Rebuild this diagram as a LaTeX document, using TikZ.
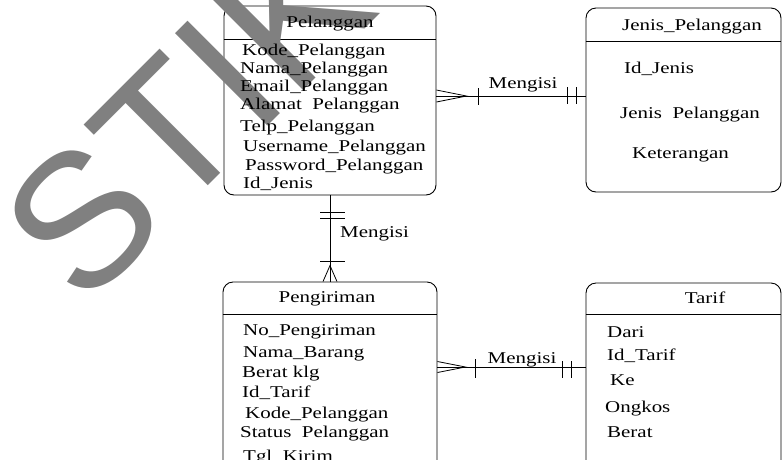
\documentclass[tikz,border=0pt]{standalone}
\usepackage{fontspec}
\setmainfont{Liberation Serif}[FakeStretch=1.27]
\newfontfamily\wmfont{Liberation Sans}
\usetikzlibrary{calc}
\newcommand\erfont{\fontsize{16.5}{16.5}\selectfont}
\definecolor{wmgray}{RGB}{128,128,128}

\begin{document}
\begin{tikzpicture}[x=1pt,y=-1pt,
  entity/.style={draw, rounded corners=10pt, line width=0.9pt, inner sep=0pt},
  attr/.style={anchor=west, inner sep=0pt, font=\erfont, text height=0.7em, text depth=0.2em, yshift=-3pt},
  ttl/.style={anchor=center, inner sep=0pt, font=\erfont, text height=0.7em, text depth=0.2em, yshift=-3pt},
  link/.style={line width=0.8pt},
  rel/.style={inner sep=0pt, font=\erfont, text height=0.7em, text depth=0.2em, yshift=-3pt}]

\useasboundingbox (0,0) rectangle (782,459);
\clip (0,0) rectangle (782,459);

% entity boxes
\node[entity, minimum width=212pt, minimum height=189pt] (pel) at (330,100.5) {};
\node[entity, minimum width=195pt, minimum height=184pt] (jen) at (683.5,100) {};
\node[entity, minimum width=214pt, minimum height=208pt] (pen) at (330,386) {};
\node[entity, minimum width=195pt, minimum height=207pt] (tar) at (683.5,386.5) {};

% header separators
\draw[line width=0.8pt] ($(pel.north west)+(0,34)$) -- ($(pel.north east)+(0,34)$);
\draw[line width=0.8pt] ($(jen.north west)+(0,34)$) -- ($(jen.north east)+(0,34)$);
\draw[line width=0.8pt] ($(pen.north west)+(0,33)$) -- ($(pen.north east)+(0,33)$);
\draw[line width=0.8pt] ($(tar.north west)+(0,32)$) -- ($(tar.north east)+(0,32)$);

% Pelanggan -- Jenis_Pelanggan
\coordinate (r1) at (0,96);
\coordinate (a1) at (pel.east |- r1);
\coordinate (b1) at (jen.west |- r1);
\draw[link] (a1) -- (b1);
\draw[link] ($(a1)+(0,-6)$) -- ($(a1)+(30,0)$) -- ($(a1)+(0,6)$);
\draw[link] ($(a1)+(42,-8)$) -- ($(a1)+(42,9)$);
\draw[link] ($(b1)+(-18,-9)$) -- ($(b1)+(-18,8)$);
\draw[link] ($(b1)+(-9,-9)$) -- ($(b1)+(-9,8)$);
\node[rel] (m1) at (523,83) {Mengisi};

% Pelanggan -- Pengiriman
\coordinate (a2) at (pel.south);
\coordinate (b2) at (pen.north);
\draw[link] (a2) -- (b2);
\draw[link] ($(a2)+(-10,17)$) -- ($(a2)+(15,17)$);
\draw[link] ($(a2)+(-10,23)$) -- ($(a2)+(15,23)$);
\draw[link] ($(b2)+(-10,-20)$) -- ($(b2)+(15,-20)$);
\draw[link] ($(b2)+(-7,0)$) -- ($(b2)+(0,-16)$) -- ($(b2)+(7,0)$);
\node[rel, anchor=west] (m2) at (340,232) {Mengisi};

% Pengiriman -- Tarif
\coordinate (r3) at (0,367);
\coordinate (a3) at (pen.east |- r3);
\coordinate (b3) at (tar.west |- r3);
\draw[link] (a3) -- (b3);
\draw[link] ($(a3)+(0,-5.5)$) -- ($(a3)+(28,0)$) -- ($(a3)+(0,5.5)$);
\draw[link] ($(a3)+(38,-8)$) -- ($(a3)+(38,11)$);
\draw[link] ($(b3)+(-23,-6)$) -- ($(b3)+(-23,11)$);
\draw[link] ($(b3)+(-14,-6)$) -- ($(b3)+(-14,11)$);
\node[rel] (m3) at (522,358) {Mengisi};

% watermark
\node[anchor=base west, inner sep=0pt, rotate=45, text=wmgray,
      font=\wmfont\fontsize{190}{190}\selectfont] (wm) at (83.5,310.6) {STIKOM};

% Pelanggan
\node[ttl] (pelT) at (330,22) {Pelanggan};
\node[attr] (p1) at (242,50) {Kode\_Pelanggan};
\node[attr] (p2) at (240,68) {Nama\_Pelanggan};
\node[attr] (p3) at (240,86) {Email\_Pelanggan};
\node[attr] (p4) at (240,104) {Alamat\ \ Pelanggan};
\node[attr] (p5) at (240,126) {Telp\_Pelanggan};
\node[attr] (p6) at (243,146) {Username\_Pelanggan};
\node[attr] (p7) at (245,165) {Password\_Pelanggan};
\node[attr] (p8) at (243,183) {Id\_Jenis};

% Jenis_Pelanggan
\node[ttl] (jenT) at (692,25) {Jenis\_Pelanggan};
\node[attr] (j1) at (624,68) {Id\_Jenis};
\node[attr] (j2) at (620,113) {Jenis\ \ Pelanggan};
\node[attr] (j3) at (632,153) {Keterangan};

% Pengiriman
\node[ttl] (penT) at (327,297) {Pengiriman};
\node[attr] (g1) at (243,330) {No\_Pengiriman};
\node[attr] (g2) at (243,352) {Nama\_Barang};
\node[attr] (g3) at (242,372) {Berat klg};
\node[attr] (g4) at (242,392) {Id\_Tarif};
\node[attr] (g5) at (245,413) {Kode\_Pelanggan};
\node[attr] (g6) at (240,432) {Status\ \ Pelanggan};
\node[attr] (g7) at (243,455.5) {Tgl\_Kirim};

% Tarif
\node[ttl] (tarT) at (705,298) {Tarif};
\node[attr] (t1) at (607,332) {Dari};
\node[attr] (t2) at (607,355) {Id\_Tarif};
\node[attr] (t3) at (610,380) {Ke};
\node[attr] (t4) at (605,407) {Ongkos};
\node[attr] (t5) at (607,432) {Berat};
\end{tikzpicture}
\end{document}
